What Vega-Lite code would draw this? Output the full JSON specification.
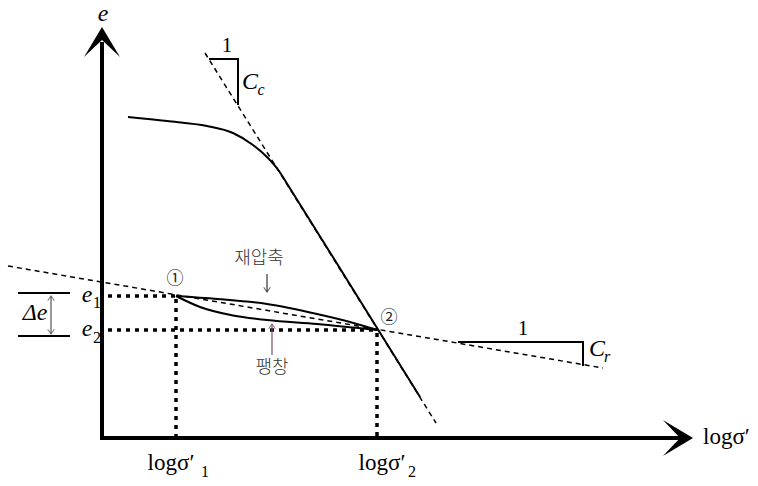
{
  "$schema": "https://vega.github.io/schema/vega-lite/v6.json",
  "width": 758,
  "height": 486,
  "autosize": {"type": "fit", "contains": "padding"},
  "padding": 0,
  "background": "white",
  "view": {"stroke": null},
  "config": {"line": {"strokeCap": "butt"}},
  "datasets": {
    "axes": [
      {"g": "e_axis", "i": 0, "x": 102, "y": 440},
      {"g": "e_axis", "i": 1, "x": 102, "y": 42},
      {"g": "s_axis", "i": 0, "x": 100, "y": 438},
      {"g": "s_axis", "i": 1, "x": 680, "y": 438}
    ],
    "guides": [
      {"g": "v1", "i": 0, "x": 176, "y": 299},
      {"g": "v1", "i": 1, "x": 176, "y": 437},
      {"g": "v2", "i": 0, "x": 377, "y": 333},
      {"g": "v2", "i": 1, "x": 377, "y": 437},
      {"g": "h1", "i": 0, "x": 108, "y": 296},
      {"g": "h1", "i": 1, "x": 176, "y": 296},
      {"g": "h2", "i": 0, "x": 108, "y": 330},
      {"g": "h2", "i": 1, "x": 377, "y": 330}
    ],
    "tangents": [
      {"g": "Cr", "i": 0, "x": 8, "y": 266},
      {"g": "Cr", "i": 1, "x": 603, "y": 368},
      {"g": "Cc", "i": 0, "x": 205, "y": 53},
      {"g": "Cc", "i": 1, "x": 436, "y": 423}
    ],
    "curves": [
      {"g": "virgin", "x": 128, "y": 117},
      {"g": "virgin", "x": 167, "y": 121},
      {"g": "virgin", "x": 207, "y": 126},
      {"g": "virgin", "x": 233, "y": 133},
      {"g": "virgin", "x": 253, "y": 145},
      {"g": "virgin", "x": 268, "y": 158},
      {"g": "virgin", "x": 279, "y": 171},
      {"g": "virgin", "x": 286, "y": 182},
      {"g": "virgin", "x": 350, "y": 284.5},
      {"g": "virgin", "x": 420, "y": 397},
      {"g": "reload", "x": 176, "y": 296},
      {"g": "reload", "x": 217, "y": 299},
      {"g": "reload", "x": 267, "y": 304},
      {"g": "reload", "x": 317, "y": 314},
      {"g": "reload", "x": 350, "y": 322},
      {"g": "reload", "x": 377, "y": 330},
      {"g": "unload", "x": 176, "y": 296},
      {"g": "unload", "x": 200, "y": 307},
      {"g": "unload", "x": 233, "y": 315.5},
      {"g": "unload", "x": 267, "y": 320},
      {"g": "unload", "x": 317, "y": 324},
      {"g": "unload", "x": 377, "y": 330}
    ],
    "frames": [
      {"g": "tri_c", "i": 0, "x": 209, "y": 59},
      {"g": "tri_c", "i": 1, "x": 238, "y": 59},
      {"g": "tri_c", "i": 2, "x": 238, "y": 105},
      {"g": "tri_r", "i": 0, "x": 458, "y": 342},
      {"g": "tri_r", "i": 1, "x": 583, "y": 342},
      {"g": "tri_r", "i": 2, "x": 583, "y": 366},
      {"g": "e1_bar", "i": 0, "x": 18, "y": 293},
      {"g": "e1_bar", "i": 1, "x": 70, "y": 293},
      {"g": "e2_bar", "i": 0, "x": 18, "y": 336},
      {"g": "e2_bar", "i": 1, "x": 70, "y": 336}
    ],
    "pointers": [
      {"g": "de", "i": 0, "x": 51, "y": 296, "c": "grey"},
      {"g": "de", "i": 1, "x": 51, "y": 334, "c": "grey"},
      {"g": "recomp", "i": 0, "x": 267, "y": 274, "c": "dark"},
      {"g": "recomp", "i": 1, "x": 267, "y": 292, "c": "dark"},
      {"g": "swell", "i": 0, "x": 272, "y": 355, "c": "purple"},
      {"g": "swell", "i": 1, "x": 272, "y": 324, "c": "purple"}
    ],
    "tips": [
      {"x": 51, "y": 296, "rot": 0, "c": "grey"},
      {"x": 51, "y": 334, "rot": 180, "c": "grey"},
      {"x": 267, "y": 292, "rot": 180, "c": "dark"},
      {"x": 272, "y": 324, "rot": 0, "c": "purple"}
    ]
  },
  "encoding": {
    "x": {"field": "x", "type": "quantitative", "scale": {"domain": [0, 758], "nice": false, "zero": false}, "axis": null},
    "y": {"field": "y", "type": "quantitative", "scale": {"domain": [0, 486], "nice": false, "zero": false, "reverse": true}, "axis": null}
  },
  "layer": [
    {
      "data": {"name": "guides"},
      "mark": {"type": "line", "color": "black", "strokeWidth": 3.5, "strokeDash": [4, 5]},
      "encoding": {"detail": {"field": "g"}, "order": {"field": "i"}}
    },
    {
      "data": {"name": "tangents"},
      "mark": {"type": "line", "color": "black", "strokeWidth": 1.5, "strokeDash": [5, 4]},
      "encoding": {"detail": {"field": "g"}, "order": {"field": "i"}}
    },
    {
      "data": {"name": "curves"},
      "mark": {"type": "line", "color": "black", "strokeWidth": 2, "interpolate": "monotone"},
      "encoding": {"detail": {"field": "g"}, "order": {"field": "x"}}
    },
    {
      "data": {"name": "frames"},
      "mark": {"type": "line", "color": "black", "strokeWidth": 2},
      "encoding": {"detail": {"field": "g"}, "order": {"field": "i"}}
    },
    {
      "data": {"name": "pointers"},
      "mark": {"type": "line", "strokeWidth": 1.2},
      "encoding": {
        "detail": {"field": "g"},
        "order": {"field": "i"},
        "color": {"field": "c", "type": "nominal", "scale": {"domain": ["grey", "dark", "purple"], "range": ["#555555", "#333333", "#7a4f72"]}, "legend": null}
      }
    },
    {
      "data": {"name": "tips"},
      "mark": {"type": "point", "shape": "M-0.7,1L0,0L0.7,1", "size": 90, "filled": false, "strokeWidth": 1.2},
      "encoding": {
        "angle": {"field": "rot", "type": "quantitative", "scale": null},
        "color": {"field": "c", "type": "nominal", "scale": {"domain": ["grey", "dark", "purple"], "range": ["#555555", "#333333", "#7a4f72"]}, "legend": null}
      }
    },
    {
      "data": {"name": "axes"},
      "mark": {"type": "line", "color": "black", "strokeWidth": 4},
      "encoding": {"detail": {"field": "g"}, "order": {"field": "i"}}
    },
    {
      "data": {"values": [{"x": 102, "y": 45, "rot": 0}, {"x": 675, "y": 438, "rot": 90}]},
      "mark": {"type": "point", "shape": "M0,-1L1,0.67L0,-0.28L-1,0.67Z", "size": 1296, "filled": true, "color": "black", "opacity": 1, "strokeWidth": 0},
      "encoding": {"angle": {"field": "rot", "type": "quantitative", "scale": null}}
    },
    {
      "data": {"values": [
        {"x": 103, "y": 14, "t": "e"},
        {"x": 250, "y": 82, "t": "C"},
        {"x": 597, "y": 349, "t": "C"},
        {"x": 87, "y": 295, "t": "e"},
        {"x": 87, "y": 329, "t": "e"},
        {"x": 35, "y": 313, "t": "Δe"}
      ]},
      "mark": {"type": "text", "font": "Liberation Serif", "fontStyle": "italic", "fontSize": 24, "color": "black", "baseline": "middle", "align": "center"},
      "encoding": {"text": {"field": "t"}}
    },
    {
      "data": {"values": [
        {"x": 261, "y": 90, "t": "c"},
        {"x": 607, "y": 357, "t": "r"}
      ]},
      "mark": {"type": "text", "font": "Liberation Serif", "fontStyle": "italic", "fontSize": 16, "color": "black", "baseline": "middle", "align": "center"},
      "encoding": {"text": {"field": "t"}}
    },
    {
      "data": {"values": [
        {"x": 97, "y": 303, "t": "1"},
        {"x": 97, "y": 338, "t": "2"},
        {"x": 205, "y": 472, "t": "1"},
        {"x": 412, "y": 472, "t": "2"}
      ]},
      "mark": {"type": "text", "font": "Liberation Serif", "fontSize": 16, "color": "black", "baseline": "middle", "align": "center"},
      "encoding": {"text": {"field": "t"}}
    },
    {
      "data": {"values": [
        {"x": 227, "y": 46, "t": "1"},
        {"x": 523, "y": 329, "t": "1"}
      ]},
      "mark": {"type": "text", "font": "Liberation Serif", "fontSize": 21, "color": "black", "baseline": "middle", "align": "center"},
      "encoding": {"text": {"field": "t"}}
    },
    {
      "data": {"values": [
        {"x": 171, "y": 463, "t": "logσ′"},
        {"x": 382, "y": 463, "t": "logσ′"}
      ]},
      "mark": {"type": "text", "font": "Liberation Serif", "fontSize": 23, "color": "black", "baseline": "middle", "align": "center"},
      "encoding": {"text": {"field": "t"}}
    },
    {
      "data": {"values": [{"x": 703, "y": 437, "t": "logσ′"}]},
      "mark": {"type": "text", "font": "Liberation Serif", "fontSize": 23, "color": "black", "baseline": "middle", "align": "left"},
      "encoding": {"text": {"field": "t"}}
    },
    {
      "data": {"values": [
        {"x": 259, "y": 259, "t": "재압축"},
        {"x": 272, "y": 368, "t": "팽창"}
      ]},
      "mark": {"type": "text", "font": "Noto Sans CJK KR", "fontSize": 18, "fontWeight": 300, "color": "#333333", "baseline": "middle", "align": "center"},
      "encoding": {"text": {"field": "t"}}
    },
    {
      "data": {"values": [
        {"x": 175, "y": 279, "t": "①"},
        {"x": 389, "y": 318, "t": "②"}
      ]},
      "mark": {"type": "text", "font": "Noto Sans CJK KR", "fontSize": 17, "color": "#222222", "baseline": "middle", "align": "center"},
      "encoding": {"text": {"field": "t"}}
    }
  ]
}
